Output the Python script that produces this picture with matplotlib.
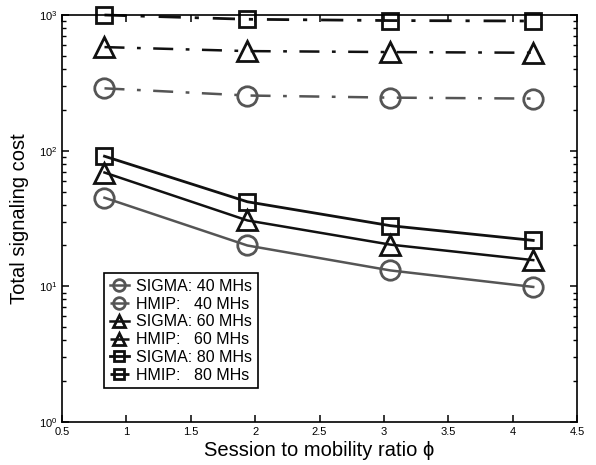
import matplotlib
matplotlib.use('Agg')
import matplotlib.pyplot as plt
from matplotlib.ticker import LogLocator, FixedLocator

plt.rcParams['font.family'] = ['Liberation Sans', 'DejaVu Sans']
plt.rcParams['mathtext.fontset'] = 'custom'
plt.rcParams['mathtext.rm'] = 'Liberation Sans'

# session-to-mobility ratio samples
phi = [0.83, 1.94, 3.05, 4.16]

sigma_40 = [45, 20, 13.1, 9.9]
hmip_40 = [288, 255, 246, 242]
sigma_60 = [69, 30.6, 20.3, 15.6]
hmip_60 = [580, 542, 533, 527]
sigma_80 = [91, 42, 28, 21.8]
hmip_80 = [1000, 930, 910, 903]

labels = ['SIGMA: 40 MHs', 'HMIP:   40 MHs', 'SIGMA: 60 MHs',
          'HMIP:   60 MHs', 'SIGMA: 80 MHs', 'HMIP:   80 MHs']

GRAY = '#555555'
BLACK = '#111111'
DASHDOT = (0, (8, 5, 1.5, 5))

fig = plt.figure(figsize=(5.96, 4.65), dpi=100)
ax = fig.add_axes([62 / 596, 1 - 422 / 465, (577 - 62) / 596, (422 - 15) / 465])

series = [
  (sigma_40, GRAY, 'o', '-', 1.8),
  (hmip_40, GRAY, 'o', DASHDOT, 1.8),
  (sigma_60, BLACK, '^', '-', 1.8),
  (hmip_60, BLACK, '^', DASHDOT, 1.8),
  (sigma_80, BLACK, 's', '-', 2.0),
  (hmip_80, BLACK, 's', DASHDOT, 2.0),
]
ms = {'o': 14, '^': 15, 's': 12}
for (vals, col, mk, ls, lw), lab in zip(series, labels):
  ax.plot(phi, vals, color=col, marker=mk, linestyle=ls, linewidth=lw,
          markersize=ms[mk], markerfacecolor='none', markeredgewidth=2.0,
          label=lab, clip_on=False)

ax.set_yscale('log')
ax.set_ylim(1, 1000)
ax.set_xlim(0.5, 4.5)
ax.xaxis.set_major_locator(FixedLocator([0.5, 1, 1.5, 2, 2.5, 3, 3.5, 4, 4.5]))
ax.set_xticklabels(['0.5', '1', '1.5', '2', '2.5', '3', '3.5', '4', '4.5'])
ax.yaxis.set_minor_locator(LogLocator(base=10, subs=range(2, 10), numticks=10))
ax.set_yticks([1, 10, 100, 1000])
ax.set_yticklabels(['$10^0$', '$10^1$', '$10^2$', '$10^3$'])
ax.tick_params(which='both', direction='in', top=True, right=True, labelsize=8)
ax.tick_params(which='major', length=5, width=1.1)
ax.tick_params(which='minor', length=3, width=1.0)
for s in ax.spines.values():
  s.set_linewidth(1.2)

ax.set_xlabel('Session to mobility ratio ϕ', fontsize=14.5, labelpad=3)
ax.set_ylabel('Total signaling cost', fontsize=14.5, labelpad=7)

leg = ax.legend(loc='lower left', bbox_to_anchor=(0.082, 0.083), fontsize=11.5,
                handlelength=1.2, handletextpad=0.45, borderpad=0.35,
                labelspacing=0.17, borderaxespad=0, fancybox=False, framealpha=1,
                edgecolor='black', markerscale=0.6)
leg.get_frame().set_linewidth(1.2)

fig.savefig('out.png', dpi=100)
